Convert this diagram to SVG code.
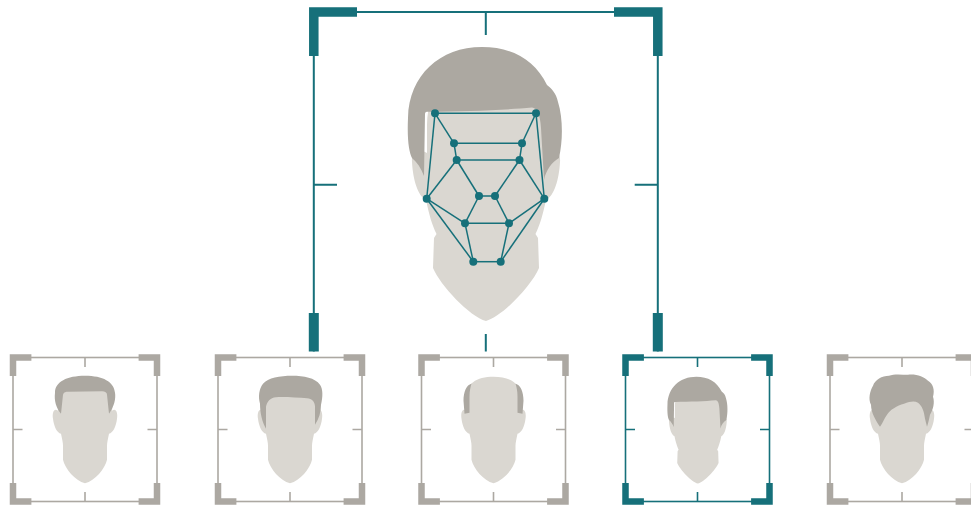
<svg xmlns="http://www.w3.org/2000/svg" width="971" height="507" viewBox="0 0 971 507">
  <defs>
    <style>
      .skin { fill: #dad7d1; }
      .hair { fill: #aca8a1; }
      .vf-line { fill: none; stroke-width: 1.6; }
      .vf-bracket { fill: none; stroke-width: 6.5; stroke-linejoin: miter; }
      .mesh-links line { stroke: #16707a; stroke-width: 1.5; }
      .mesh-points circle { fill: #16707a; }
    </style>

    <!-- small viewfinder, centred on 0,0 -->
    <g id="viewfinder">
      <rect class="vf-line" x="-72" y="-72" width="144" height="144"/>
      <path class="vf-bracket" d="M-72 -53.6 V-72 H-53.6 M53.6 -72 H72 V-53.6 M72 53.6 V72 H53.6 M-53.6 72 H-72 V53.6"/>
      <path class="vf-line" d="M0 -72 V-62.5 M0 72 V62.5 M-72 0 H-62.5 M72 0 H62.5"/>
    </g>

    <!-- generic small head, top of head at 0,0 -->
    <path id="skin-small" class="skin" d="M0 0 C-17 0 -28 7 -28 22 L-27 34 C-31 31 -33 36 -32 42 C-31 50 -28 56 -24 57 C-23 62 -22 66 -22 69 L-22 83 C-20 92 -10 104 0 106.6 C10 104 20 92 22 83 L22 69 C22 66 23 62 24 57 C28 56 31 50 32 42 C33 36 31 31 27 34 L28 22 C28 7 17 0 0 0 Z"/>

    <!-- large head -->
    <g id="head-large">
      <path class="skin" d="M486 62 C450 62 428 85 427 125 L427 153 C418 148 411 152 412 162 C413 180 418 196 426 200 C429 214 432 225 436.5 234 L434 238 L433 268 C440 285 470 317 486 321 C502 317 532 285 539 268 L538 238 L535.5 234 C540 225 543 214 546 200 C554 196 559 180 560 162 C561 152 554 148 546 153 L546 125 C545 85 522 62 486 62 Z"/>
      <path class="hair" d="M424 176 L425 114 C425 112 426 111.7 428 111.7 C465 111.5 505 110 532 107.5 C537 108 540 114 541 128 L544 180 C546 170 552 162 559 158 C563 140 563 118 558 102 C556 93 552 89 547 85 C535 60 512 47 482 47 C440 47 409 75 408 118 C407 140 409 152 412 158 C417 162 421 168 424 176 Z"/>
    </g>
  </defs>

  <!-- large frame around the analysed face -->
  <g id="main-frame" fill="none" stroke="#16707a">
    <path d="M313.8 56 V351.5 M657.8 56 V351.5 M357 12 H614" stroke-width="2"/>
    <path d="M313.8 56 V12 H357 M614 12 H657.8 V56" stroke-width="9.5"/>
    <path d="M313.8 313 V351.5 M657.8 313 V351.5" stroke-width="10"/>
    <path d="M485.8 12 V35 M313.8 184.7 H337 M657.8 184.7 H634.7 M485.8 334 V351.5" stroke-width="2"/>
  </g>

  <!-- analysed face with landmark mesh -->
  <g id="main-face">
    <use href="#head-large"/>
  </g>

  <g id="mesh">
    <g class="mesh-links">
      <line x1="435" y1="113.3" x2="536" y2="113.3"/>
      <line x1="435" y1="113.3" x2="454" y2="143.3"/>
      <line x1="435" y1="113.3" x2="426.7" y2="198.7"/>
      <line x1="536" y1="113.3" x2="522" y2="143.3"/>
      <line x1="536" y1="113.3" x2="544.3" y2="198.7"/>
      <line x1="454" y1="143.3" x2="522" y2="143.3"/>
      <line x1="454" y1="143.3" x2="456.7" y2="160"/>
      <line x1="522" y1="143.3" x2="519.5" y2="160"/>
      <line x1="456.7" y1="160" x2="519.5" y2="160"/>
      <line x1="456.7" y1="160" x2="426.7" y2="198.7"/>
      <line x1="456.7" y1="160" x2="479" y2="196"/>
      <line x1="519.5" y1="160" x2="495" y2="196"/>
      <line x1="519.5" y1="160" x2="544.3" y2="198.7"/>
      <line x1="479" y1="196" x2="495" y2="196"/>
      <line x1="479" y1="196" x2="465" y2="223.3"/>
      <line x1="495" y1="196" x2="509" y2="223.3"/>
      <line x1="426.7" y1="198.7" x2="465" y2="223.3"/>
      <line x1="544.3" y1="198.7" x2="509" y2="223.3"/>
      <line x1="465" y1="223.3" x2="509" y2="223.3"/>
      <line x1="426.7" y1="198.7" x2="473.3" y2="261.7"/>
      <line x1="544.3" y1="198.7" x2="500.7" y2="261.7"/>
      <line x1="465" y1="223.3" x2="473.3" y2="261.7"/>
      <line x1="509" y1="223.3" x2="500.7" y2="261.7"/>
      <line x1="473.3" y1="261.7" x2="500.7" y2="261.7"/>
    </g>
    <g class="mesh-points">
      <circle cx="435" cy="113.3" r="4"/>
      <circle cx="536" cy="113.3" r="4"/>
      <circle cx="454" cy="143.3" r="4"/>
      <circle cx="522" cy="143.3" r="4"/>
      <circle cx="456.7" cy="160" r="4"/>
      <circle cx="519.5" cy="160" r="4"/>
      <circle cx="426.7" cy="198.7" r="4"/>
      <circle cx="544.3" cy="198.7" r="4"/>
      <circle cx="479" cy="196" r="4"/>
      <circle cx="495" cy="196" r="4"/>
      <circle cx="465" cy="223.3" r="4"/>
      <circle cx="509" cy="223.3" r="4"/>
      <circle cx="473.3" cy="261.7" r="4"/>
      <circle cx="500.7" cy="261.7" r="4"/>
    </g>
  </g>

  <!-- candidate faces -->
  <g id="candidate-1">
    <use href="#viewfinder" x="85" y="429.5" stroke="#aca8a2"/>
    <g transform="translate(85 376.7)">
      <use href="#skin-small"/>
      <path class="hair" d="M-24 37 L-22 18 C-21 15 -19 15 -17 15 L17 14.5 C20 14.5 22 16 22 18 L24 37 C29 30 31 22 30 16 C29 5 18 -1 0 -1 C-18 -1 -30 5 -30 16 C-31 24 -29 31 -24 37 Z"/>
    </g>
  </g>

  <g id="candidate-2">
    <use href="#viewfinder" x="290" y="429.5" stroke="#aca8a2"/>
    <g transform="translate(290 376.7)">
      <use href="#skin-small"/>
      <path class="hair" d="M-24 52 L-24 30 C-23 25 -20 21 -14 20.5 C-5 20 8 21 17 21.5 C22 22 25 25 25 30 L25 48 C29 42 31 35 31 28 C33 20 33 12 30 8 C25 1 14 -1 2 -1 C-10 -1 -22 1 -27 7 C-31 12 -32 20 -30 27 C-30 36 -28 45 -24 52 Z"/>
    </g>
  </g>

  <g id="candidate-3">
    <use href="#viewfinder" x="493.5" y="429.5" stroke="#aca8a2"/>
    <g transform="translate(493.5 376.7)">
      <use href="#skin-small"/>
      <path class="hair" d="M-22 7 C-27 8 -30 15 -30 24 L-29 37 L-24 36 L-24 20 C-24 14 -23 10 -22 7 Z M22 7 C27 8 30 15 30 24 L29 37 L24 36 L24 20 C24 14 23 10 22 7 Z"/>
    </g>
  </g>

  <g id="candidate-4">
    <use href="#viewfinder" x="697.5" y="429.5" stroke="#16707a"/>
    <use href="#head-large" transform="translate(697.5 376.7) scale(0.39) translate(-485 -47)"/>
  </g>

  <g id="candidate-5">
    <use href="#viewfinder" x="902" y="429.5" stroke="#aca8a2"/>
    <g transform="translate(902 376.7)">
      <use href="#skin-small"/>
      <path class="hair" d="M-22 50 C-26 44 -31 36 -31 28 C-34 22 -32 14 -29 9 C-27 3 -20 -1 -13 -1 C-8 -3 0 -2 6 -2 C14 -3 22 0 26 4 C31 7 33 13 31 20 C33 26 31 33 28 38 C27 43 26 47 25 50 L23 42 C22 34 20 29 16 26 C12 24 8 25 2 27 C-5 29 -12 33 -15 38 C-18 42 -19 46 -22 50 Z"/>
    </g>
  </g>
</svg>
